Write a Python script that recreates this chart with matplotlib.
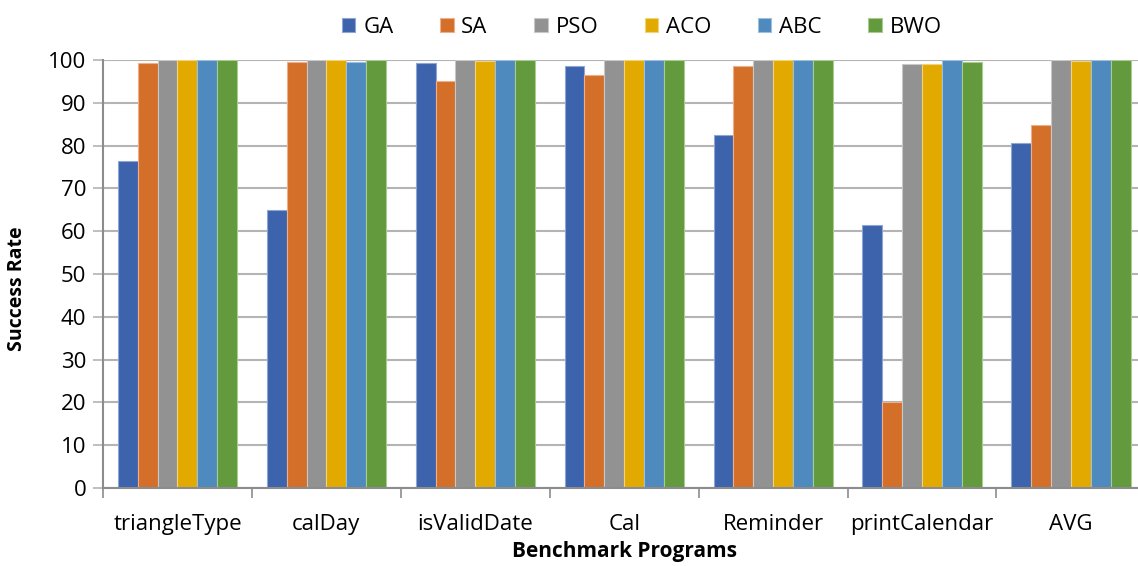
import matplotlib
matplotlib.use('Agg')
import matplotlib.pyplot as plt
from matplotlib.ticker import FixedLocator, MultipleLocator
import numpy as np


programs = ['triangleType', 'calDay', 'isValidDate', 'Cal', 'Reminder', 'printCalendar', 'AVG']
algorithms = ['GA', 'SA', 'PSO', 'ACO', 'ABC', 'BWO']

ga = [76.4, 65.0, 99.3, 98.7, 82.4, 61.5, 80.5]
sa = [99.3, 99.5, 95.2, 96.4, 98.5, 20.1, 84.8]
pso = [100, 100, 100, 100, 100, 99.0, 100]
aco = [100, 100, 99.7, 100, 100, 99.1, 99.8]
abc = [100, 99.6, 100, 100, 100, 100, 99.9]
bwo = [100, 100, 100, 100, 100, 99.6, 99.9]

COLORS = ['#3c63ac', '#d46f2a', '#929292', '#e2aa00', '#4e8abd', '#629a3d']
EDGES = ['#8fa6d4', '#eeb08a', '#c8c8c8', '#f3d27a', '#9dc0de', '#a9cc90']

plt.rcParams['font.family'] = ['Open Sans', 'DejaVu Sans']


def plot_bars():
    series = [ga, sa, pso, aco, abc, bwo]
    fig = plt.figure(figsize=(11.38, 5.66), dpi=100)
    ax = fig.add_axes([0.0905, 0.1378, 0.916, 0.7562])

    x = np.arange(len(programs))
    w = 0.8 / len(series)
    for i, (name, vals) in enumerate(zip(algorithms, series)):
        ax.bar(x - 0.4 + w * (i + 0.5), vals, width=w, color=COLORS[i],
               edgecolor=EDGES[i], linewidth=0.8, label=name, zorder=3)

    ax.set_xlim(-0.5, len(programs) - 0.5)
    ax.set_ylim(0, 100)
    ax.yaxis.set_major_locator(MultipleLocator(10))
    ax.grid(axis='y', color='#b4b4b4', linewidth=1.5, zorder=0)

    ax.set_xticks(x)
    ax.set_xticklabels(programs, fontsize=16)
    ax.xaxis.set_minor_locator(FixedLocator(np.arange(-0.5, len(programs), 1.0)))
    ax.tick_params(axis='x', which='major', length=0, pad=19)
    ax.tick_params(axis='x', which='minor', length=7, width=1.2, color='#8c8c8c')
    ax.tick_params(axis='y', length=7, width=1.2, color='#b4b4b4', labelsize=16, pad=5)

    for s in ['top', 'right']:
        ax.spines[s].set_visible(False)
    ax.spines['left'].set_color('#8c8c8c')
    ax.spines['left'].set_linewidth(1.5)
    ax.spines['bottom'].set_color('#8c8c8c')
    ax.spines['bottom'].set_linewidth(1.5)
    ax.spines['bottom'].set_zorder(4)

    ax.set_xlabel('Benchmark Programs', fontsize=15, fontweight='bold', labelpad=4)
    ax.set_ylabel('Success Rate', fontsize=14, fontweight='bold')
    ax.yaxis.set_label_coords(-0.073, 0.465)

    fig.legend(loc='upper center', bbox_to_anchor=(0.564, 1.005), ncol=6, frameon=False,
               fontsize=16, handlelength=0.6, handleheight=0.6, handletextpad=0.35,
               columnspacing=2.1)

    fig.savefig('out.png', dpi=100)
    plt.close(fig)


if __name__ == '__main__':
    plot_bars()
